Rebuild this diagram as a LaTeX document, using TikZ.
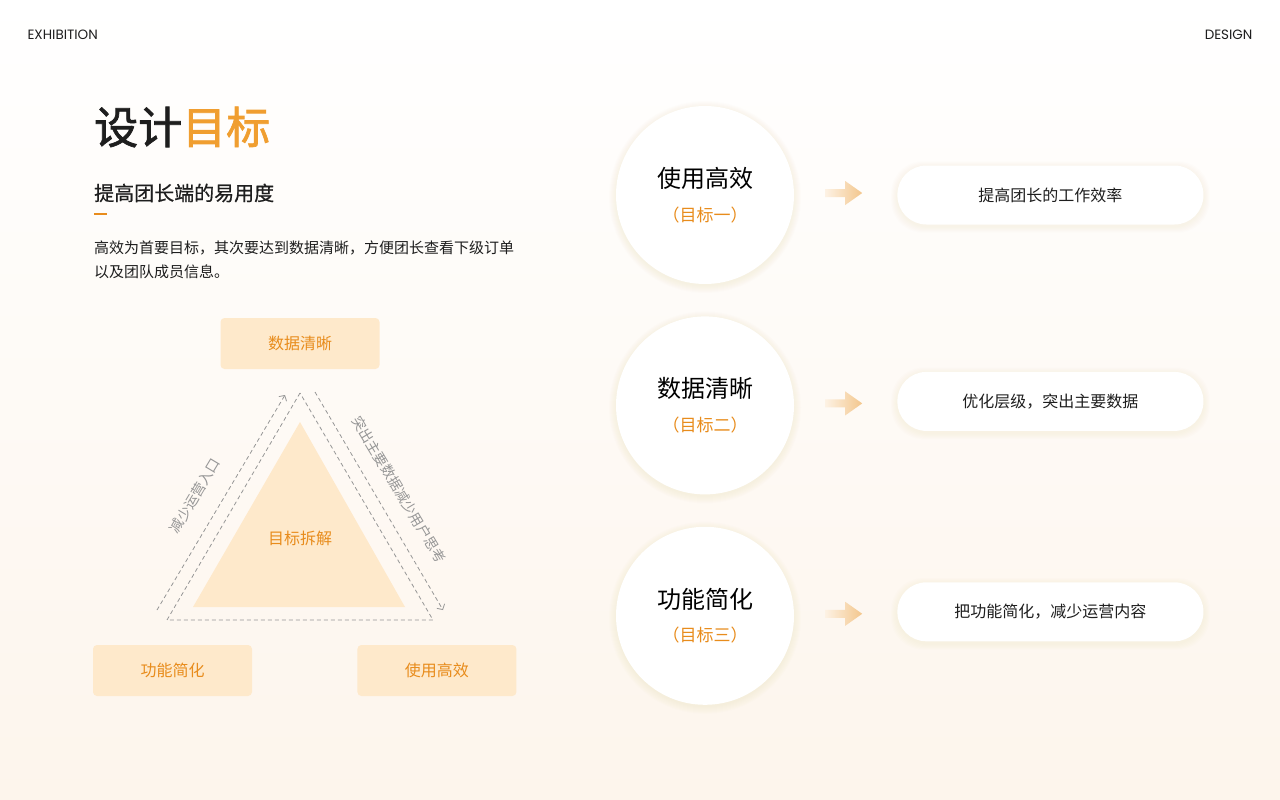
\documentclass[tikz,border=0pt]{standalone}
\usepackage{fontspec}
\setmainfont{Noto Sans CJK SC}
\newfontfamily\boldcjk[FakeBold=1.6]{Noto Sans CJK SC}
\newfontfamily\midcjk[FakeBold=0.6]{Noto Sans CJK SC}
\newfontfamily\latinfont{Poppins}
\usetikzlibrary{positioning,arrows.meta,backgrounds}

\definecolor{ink}{RGB}{30,30,30}
\definecolor{goalorange}{RGB}{232,140,28}
\definecolor{titleorange}{RGB}{240,158,48}
\definecolor{paleorange}{RGB}{254,233,203}
\definecolor{cream}{RGB}{253,245,236}
\definecolor{dashgray}{RGB}{150,150,150}
\definecolor{glow}{RGB}{244,196,130}
\definecolor{arrowtan}{RGB}{243,198,140}
\definecolor{arrowpale}{RGB}{253,242,228}

\tikzset{
  goalcircle/.style={circle,fill=white,minimum size=178pt,inner sep=0pt,align=center},
  resultbox/.style={rounded corners=29pt,fill=white,minimum width=306pt,minimum height=59pt,
    text=ink,font=\fontsize{16}{20}\selectfont},
  tagbox/.style={rounded corners=4pt,fill=paleorange,minimum width=159pt,minimum height=51pt,
    text=goalorange,font=\fontsize{16}{20}\selectfont},
  sideline/.style={dashgray,dash pattern=on 4pt off 3pt,line width=0.8pt},
  sidenote/.style={text=dashgray,font=\fontsize{14}{16}\selectfont},
}

\begin{document}
\begin{tikzpicture}[x=1pt,y=-1pt,node distance=32pt]
    \node[anchor=west,text=ink,font=\latinfont\fontsize{13.5}{16}\selectfont] (exhib) at (24,35) {EXHIBITION};
    \node[anchor=east,text=ink,font=\latinfont\fontsize{13.5}{16}\selectfont] (design) at (1256,35) {DESIGN};
    \node[anchor=west,inner sep=0pt,text=ink,font=\boldcjk\fontsize{44}{50}\selectfont] (title) at (94,127)
      {设计\textcolor{titleorange}{目标}};
    \node[anchor=west,inner sep=0pt,text=ink,font=\midcjk\fontsize{20}{24}\selectfont] (sub) at (94,193) {提高团长端的易用度};
    \fill[goalorange] ([yshift=-10pt]sub.south west) rectangle ++(13,2.5);
    \node[anchor=west,inner sep=0pt,align=left,text=ink,font=\fontsize{15}{24}\selectfont] (intro) at (94,260)
      {高效为首要目标，其次要达到数据清晰，方便团长查看下级订单\\以及团队成员信息。};

    % goal breakdown triangle
    \node[tagbox] (t1) at (300,343.5) {数据清晰};
    \node[tagbox] (t2) at (172.5,670.5) {功能简化};
    \node[tagbox,right=105pt of t2] (t3) {使用高效};
    \coordinate (apex) at (300,422);
    \coordinate (bl) at (193,607);
    \coordinate (br) at (405,607);
    \fill[paleorange] (apex) -- (bl) -- (br) -- cycle;
    \node[text=goalorange,font=\fontsize{16}{20}\selectfont] (core) at (300,538) {目标拆解};
    \coordinate (dtop) at (300,393);
    \coordinate (dl) at (167,620);
    \coordinate (dr) at (433,620);
    \draw[sideline] (dtop) -- (dl) -- (dr) -- cycle;
    \coordinate (ls) at (157,610);
    \coordinate (le) at (285,395);
    \coordinate (rs) at (315,392);
    \coordinate (re) at (443,610);
    \draw[sideline,-{Straight Barb[length=4pt,width=9pt]}] (ls) -- (le);
    \draw[sideline,-{Straight Barb[length=4pt,width=9pt]}] (rs) -- (re);
    \node[sidenote,rotate=59] (lnote) at (195,496) {减少运营入口};
    \node[sidenote,rotate=-59] (rnote) at (399,490) {突出主要数据减少用户思考};

    % goals and results
    \node[goalcircle] (g1) at (705,195)
      {\fontsize{24}{30}\selectfont 使用高效\\[16pt]\fontsize{17}{20}\selectfont\color{goalorange}（目标一）};
    \node[goalcircle,below=of g1] (g2)
      {\fontsize{24}{30}\selectfont 数据清晰\\[16pt]\fontsize{17}{20}\selectfont\color{goalorange}（目标二）};
    \node[goalcircle,below=of g2] (g3)
      {\fontsize{24}{30}\selectfont 功能简化\\[16pt]\fontsize{17}{20}\selectfont\color{goalorange}（目标三）};
    \node[resultbox,right=103pt of g1] (b1) {提高团长的工作效率};
    \node[resultbox,right=103pt of g2,yshift=4pt] (b2) {优化层级，突出主要数据};
    \node[resultbox,right=103pt of g3,yshift=4pt] (b3) {把功能简化，减少运营内容};
    \foreach \g in {1,2,3} {
      \coordinate (a\g) at ([xshift=31pt,yshift=2pt]g\g.east);
      \shade[left color=arrowpale,right color=arrowtan] (a\g) ++(0,-4) -- ++(20,0) -- ++(0,-8)
        -- ++(17,12) -- ++(-17,12) -- ++(0,-8) -- ++(-20,0) -- cycle;
    }

    \begin{scope}[on background layer]
      \shade[top color=white,bottom color=cream] (0,0) rectangle (1280,800);
      \foreach \g in {1,2,3}
        \foreach \k in {1,...,8}
          \fill[glow,opacity=0.018] ([yshift=-2pt]g\g.center) circle[radius={(88+\k)*1pt}];
      \foreach \b in {1,2,3}
        \foreach \k in {1,...,6}
          \fill[glow,opacity=0.018,rounded corners=32pt]
            ([xshift=-\k pt,yshift=-2pt-\k pt]b\b.south west) rectangle ([xshift=\k pt,yshift=\k pt-2pt]b\b.north east);
    \end{scope}
\end{tikzpicture}
\end{document}
